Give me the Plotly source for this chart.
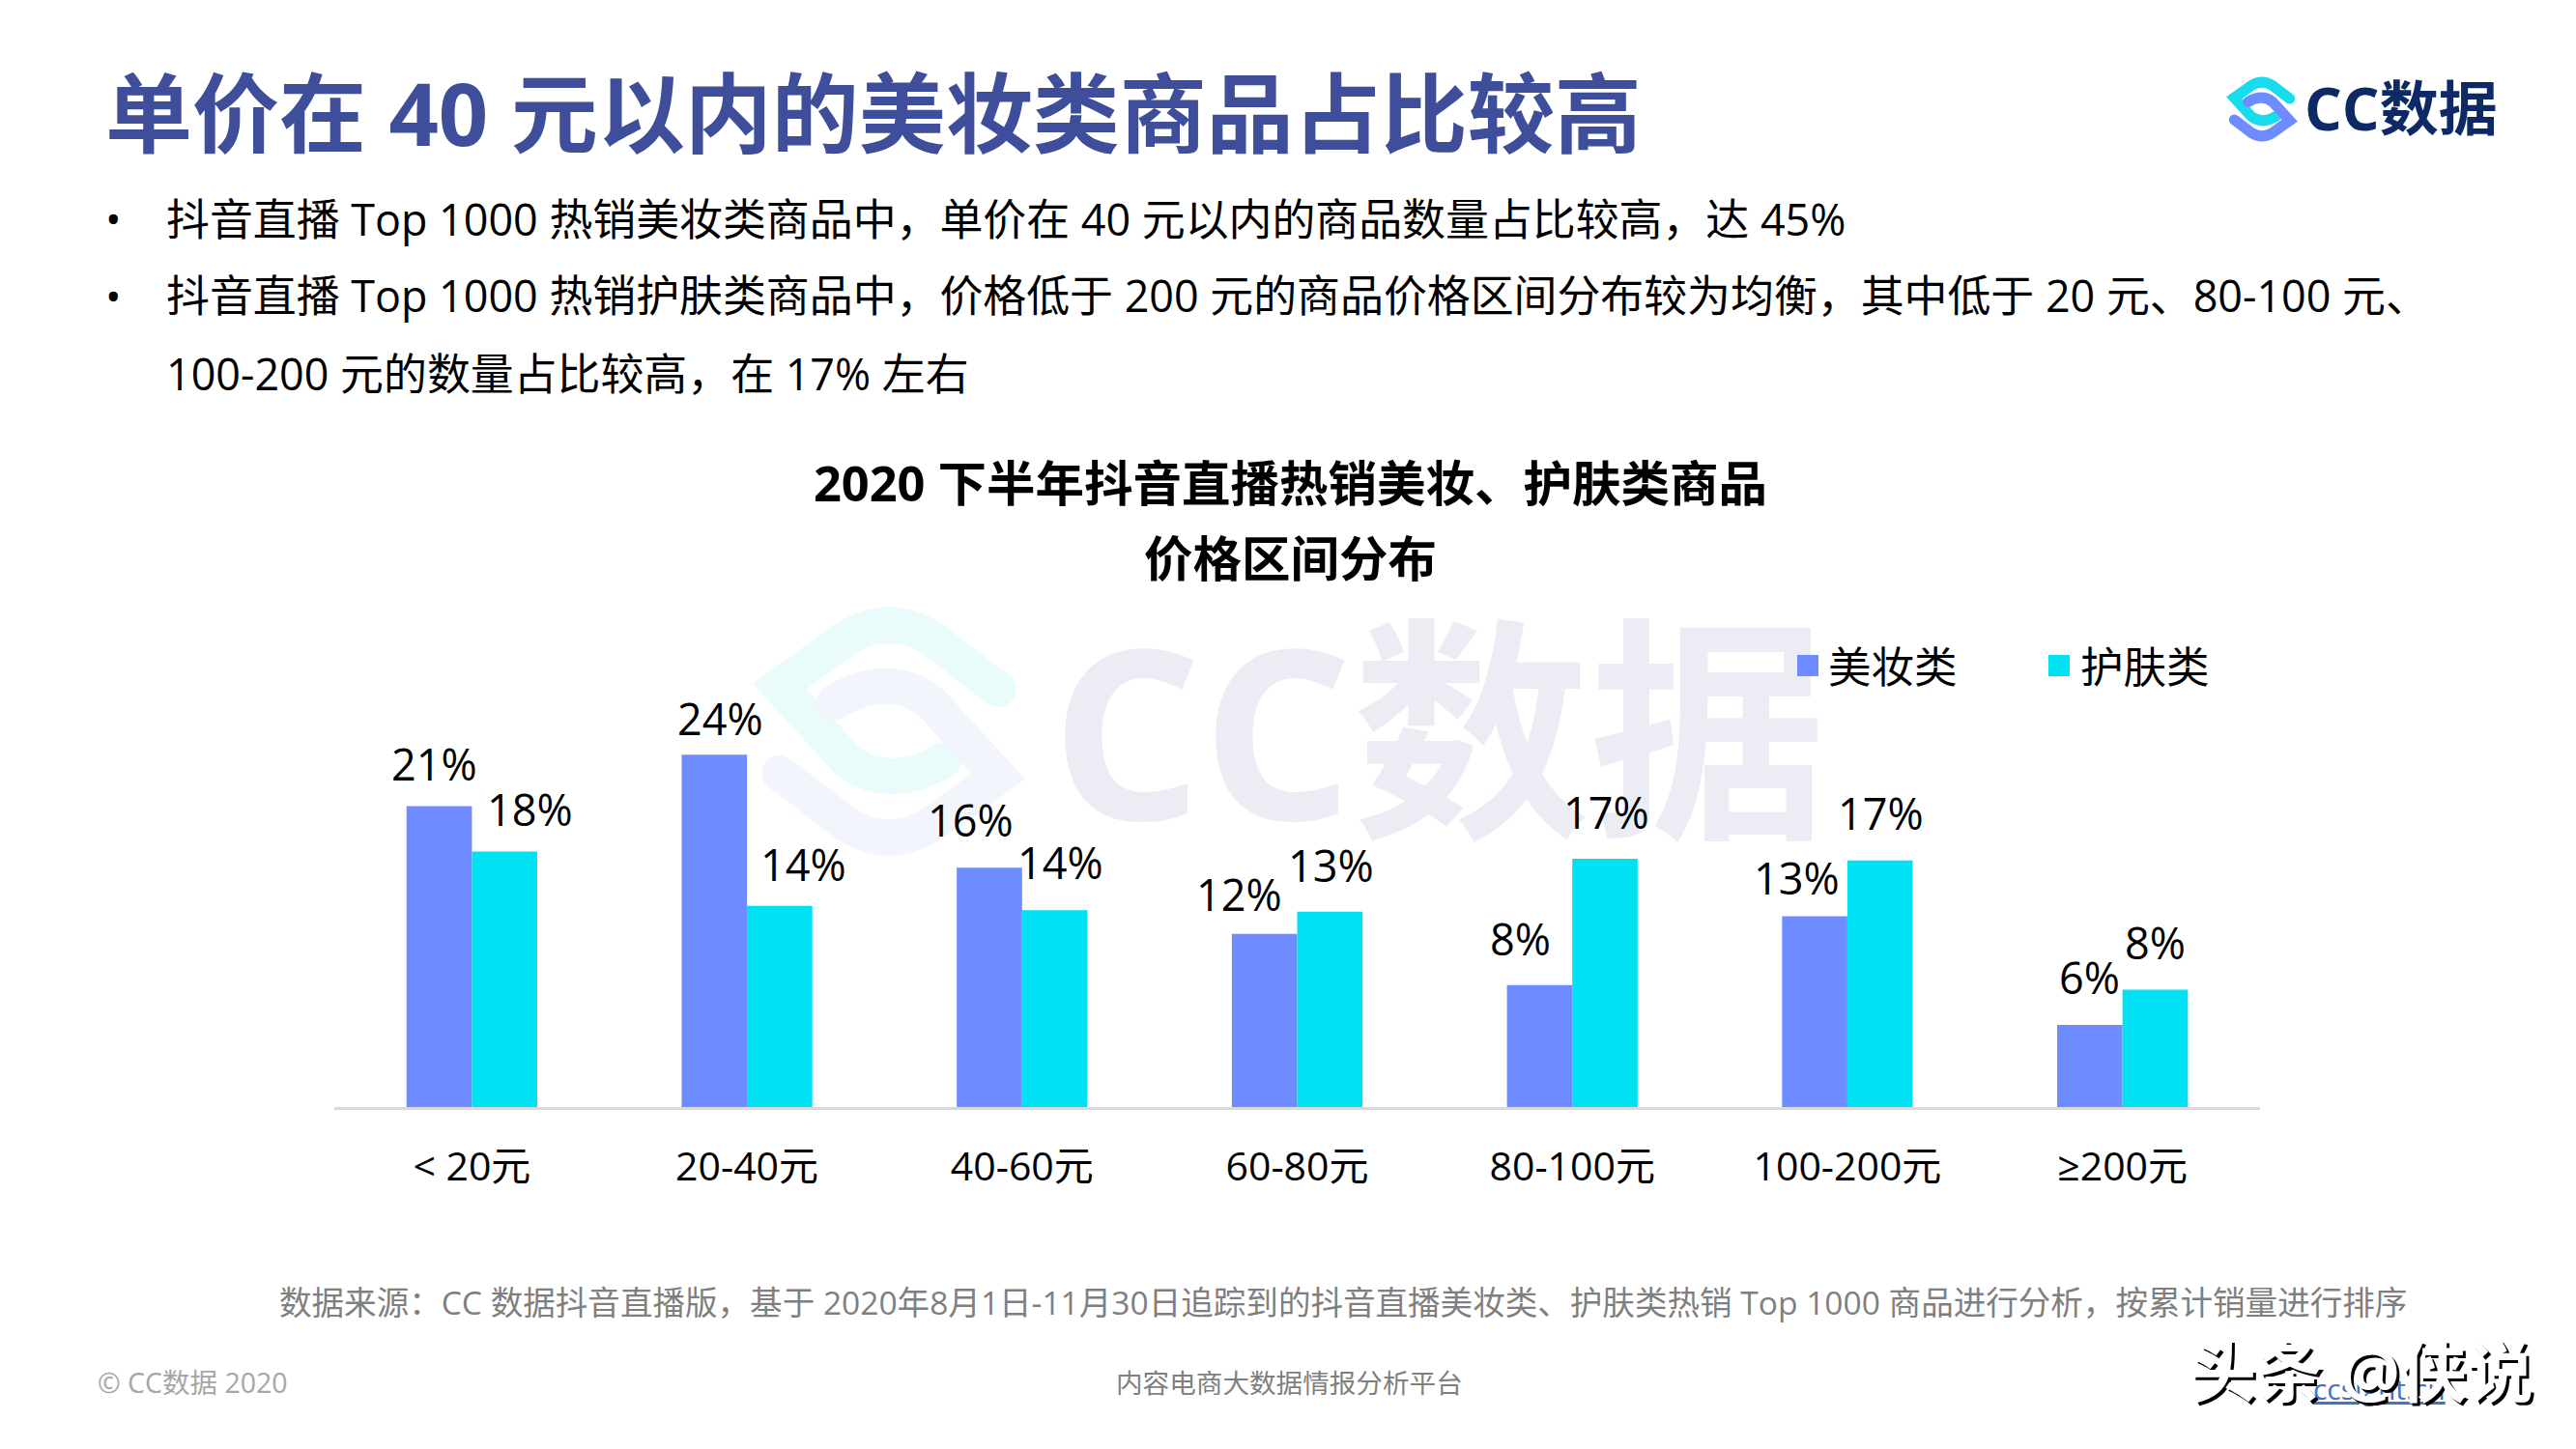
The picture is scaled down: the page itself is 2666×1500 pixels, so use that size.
import plotly.graph_objects as go

W = 2666
H = 1500
FONT = "Open Sans, Noto Sans CJK SC"

categories = ["< 20元", "20-40元", "40-60元", "60-80元", "80-100元", "100-200元", "≥200元"]
makeup = [20.5, 24.0, 16.3, 11.8, 8.3, 13.0, 5.6]
skincare = [17.4, 13.7, 13.4, 13.3, 16.9, 16.8, 8.0]
makeup_labels = ["21%", "24%", "16%", "12%", "8%", "13%", "6%"]
skincare_labels = ["18%", "14%", "14%", "13%", "17%", "17%", "8%"]

# label offsets in the original were moved by hand, so keep them as pixel shifts
makeup_dx = [-39, -28, -53, -60, -54, -52, -34]
makeup_dy = [44, 38, 50, 41, 48, 40, 49]
skincare_dx = [60, 58, 40, 35, 35, 35, 34]
skincare_dy = [44, 43, 50, 48, 49, 49, 49]

title = "单价在 40 元以内的美妆类商品占比较高"
bullets = [
    "抖音直播 Top 1000 热销美妆类商品中，单价在 40 元以内的商品数量占比较高，达 45%",
    "抖音直播 Top 1000 热销护肤类商品中，价格低于 200 元的商品价格区间分布较为均衡，其中低于 20 元、80-100 元、",
    "100-200 元的数量占比较高，在 17% 左右",
]
chart_title = "2020 下半年抖音直播热销美妆、护肤类商品<br>价格区间分布"
source = "数据来源：CC 数据抖音直播版，基于 2020年8月1日-11月30日追踪到的抖音直播美妆类、护肤类热销 Top 1000 商品进行分析，按累计销量进行排序"

BLUE = "#6E8BFF"
CYAN = "#00E1F4"


def px(x):
    return x / W


def py(y):
    return 1 - y / H


def label(text, x, y, size, color="#000000", anchor="left", bold=False):
    if bold:
        text = "<b>" + text + "</b>"
    return dict(text=text, x=px(x), y=py(y), xref="paper", yref="paper", showarrow=False,
                xanchor=anchor, yanchor="middle", align="center",
                font=dict(family=FONT, size=size, color=color))


def swatch(x, y, size, color):
    # annotation and not a shape, a shape would end up under the watermark text
    return dict(text=" ", x=px(x), y=py(y), xref="paper", yref="paper", showarrow=False,
                xanchor="center", yanchor="middle", width=size, height=size, bgcolor=color,
                borderpad=0, borderwidth=0, font=dict(size=1))


def logo_path(cx, cy, k, sign):
    pts = [(340, -130), (130, -290), (0, -370), (-130, -290), (-340, -140), (-130, 90), (0, 190), (170, 90)]
    p = [(px(cx + sign * a * k), py(cy + sign * b * k)) for a, b in pts]
    return ("M %f %f L %f %f Q %f %f %f %f L %f %f L %f %f Q %f %f %f %f"
            % (p[0] + p[1] + p[2] + p[3] + p[4] + p[5] + p[6] + p[7]))


def logo(cx, cy, k, width, c1, c2):
    out = []
    for sign, col in ((1, c1), (-1, c2)):
        out.append(dict(type="path", path=logo_path(cx, cy, k, sign), xref="paper", yref="paper",
                        layer="below", line=dict(color=col, width=width)))
        # round stroke ends
        for a, b in ((340, -130), (170, 90)):
            x = cx + sign * a * k
            y = cy + sign * b * k
            r = width / 2
            out.append(dict(type="circle", xref="paper", yref="paper", layer="below",
                            x0=px(x - r), x1=px(x + r), y0=py(y - r), y1=py(y + r),
                            fillcolor=col, line=dict(width=0)))
    return out


fig = go.Figure()
fig.add_trace(go.Bar(name="美妆类", x=categories, y=makeup, marker=dict(color=BLUE, line=dict(width=0))))
fig.add_trace(go.Bar(name="护肤类", x=categories, y=skincare, marker=dict(color=CYAN, line=dict(width=0))))

notes = []
# watermark first so that it sits under the other texts
notes.append(label("CC数据", 1489, 754, 245, "#ECEDF4", "center", True))

notes.append(label(title, 107, 116, 90, "#3F4E9B", "left", True))
notes.append(label("CC数据", 2383, 112, 61, "#0D2A66", "left", True))
for i, line in enumerate(bullets):
    notes.append(label(line, 170, 226 + i * 80, 44.9))
notes.append(label("•", 117, 226, 44, anchor="center"))
notes.append(label("•", 117, 306, 44, anchor="center"))

t1, t2 = chart_title.split("<br>")
notes.append(label(t1, 1335, 499, 50.5, anchor="center", bold=True))
notes.append(label(t2, 1335, 577, 50.5, anchor="center", bold=True))

notes.append(swatch(1871, 689, 22, BLUE))
notes.append(swatch(2131, 689, 22, CYAN))
notes.append(label("美妆类", 1890, 689, 44.5))
notes.append(label("护肤类", 2151, 689, 44.5))

for i, c in enumerate(categories):
    notes.append(dict(x=c, y=makeup[i], text=makeup_labels[i], showarrow=False, xanchor="center", yanchor="middle",
                      xshift=makeup_dx[i], yshift=makeup_dy[i], font=dict(family=FONT, size=45, color="#000000")))
    notes.append(dict(x=c, y=skincare[i], text=skincare_labels[i], showarrow=False, xanchor="center", yanchor="middle",
                      xshift=skincare_dx[i], yshift=skincare_dy[i], font=dict(family=FONT, size=45, color="#000000")))

notes.append(label(source, 287, 1348, 33.55, "#7F7F7F"))
notes.append(label("© CC数据 2020", 99, 1431, 28.5, "#A6A6A6"))
notes.append(label("内容电商大数据情报分析平台", 1334, 1431, 27.6, "#7F7F7F", "center"))
notes.append(label("<u>ccsight.cn</u>", 2462, 1437, 30, "#4472C4", "center"))
# stamp over the page: black copy with a white copy on top of it
notes.append(label("头条 @侠说", 2447, 1422, 69, "#000000", "center", True))
notes.append(label("头条 @侠说", 2444, 1419, 69, "#FFFFFF", "center", True))

shapes = []
shapes += logo(920, 757, 1 / 3, 37, "#E9FBFB", "#F3F5FD")
shapes += logo(2341, 113, 0.0843, 11, "#18DCEB", "#6E8CFF")

fig.update_layout(
    width=W, height=H, margin=dict(l=0, r=0, t=0, b=0),
    paper_bgcolor="rgba(255,255,255,0)", plot_bgcolor="rgba(255,255,255,0)",
    barmode="group", bargap=0.525, bargroupgap=0,
    showlegend=False, annotations=notes, shapes=shapes,
    font=dict(family=FONT),
)
fig.update_xaxes(domain=[px(346), px(2339)], showline=True, linecolor="#D9D9D9", linewidth=3,
                 ticks="outside", ticklen=24, tickcolor="rgba(0,0,0,0)", showgrid=False,
                 tickfont=dict(family=FONT, size=41, color="#000000"))
fig.update_yaxes(domain=[py(1146), py(750.8)], range=[0, 26], visible=False)

fig.write_html("out.html", config={"displayModeBar": False},
               post_script="document.body.style.margin='0';document.body.style.overflow='hidden';")
